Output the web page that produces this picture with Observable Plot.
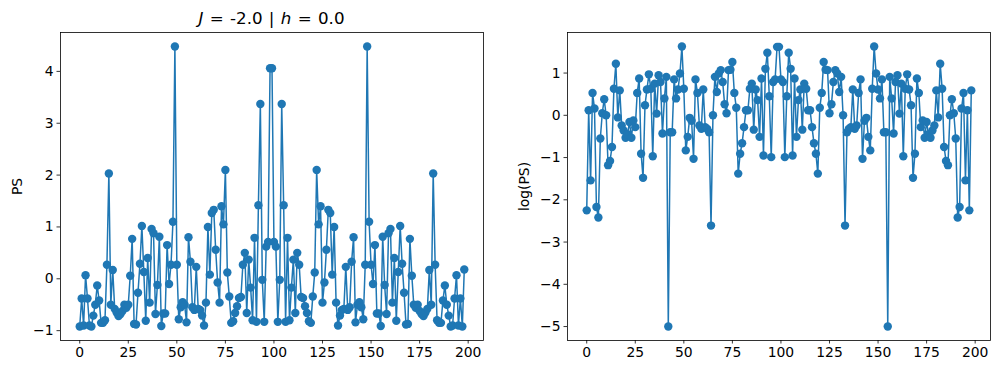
<!DOCTYPE html>
<html>
<head>
<meta charset="utf-8">
<script src="https://cdn.jsdelivr.net/npm/d3@7"></script>
<script src="https://cdn.jsdelivr.net/npm/@observablehq/plot@0.6"></script>
<style>
  html, body { margin: 0; padding: 0; background: white; }
  #wrap { position: relative; width: 999px; height: 374px; background: white; font-family: "DejaVu Sans", sans-serif; }
  #title { position: absolute; left: 60px; width: 423px; top: 10px; text-align: center; font-size: 16.7px; line-height: 1; color: black; white-space: nowrap; word-spacing: 1px; }
  #left, #right { position: absolute; top: 0; }
  #left { left: 0; }
  #right { left: 500px; }
</style>
</head>
<body>
<div id="wrap">
  <div id="left"></div>
  <div id="right"></div>
  <div id="title"><i>J</i> = -2.0 | <i>h</i> = 0.0</div>
</div>
<script>
// Left panel: PS values, index 0..198
const psFirst = [
  -0.92, -0.38, -0.90, 0.07, -0.38, -0.90, -0.92, -0.71, -0.50, -0.13,
  -0.42, -0.85, -0.85, -0.80, 0.27, 2.03, -0.50, 0.17, -0.58, -0.65,
  -0.72, -0.68, -0.62, -0.50, -0.56, -0.50, 0.06, 0.77, -0.87, -0.88,
  -0.27, 0.29, 1.02, 0.13, -0.81, 0.40, -0.46, 0.96, 0.88, -0.68,
  -0.12, 0.81, -0.91, -0.67, -0.67, 0.65, -0.10, 0.27, 1.10, 4.48,
  0.27, -0.78, -0.55, -0.45, -0.50, -0.84, 0.80, 0.33, -0.55, -0.60,
  0.23, -0.58, -0.60, -0.71, -0.90, -0.46, 1.00, 0.08, 1.27, 1.33,
  0.56, -0.07, -0.46, 1.40, 1.05, 2.10, 0.12, -0.34, -0.85, -0.82,
  -0.66, -0.53, -0.37, -0.35, 0.27, 0.50, -0.66, 0.37, -0.17, -0.80,
  0.79, -0.83, 1.42, 3.37, -0.02, -0.83, 0.62, 0.71, 4.06
];
const psSecond = [
  4.06, 0.71, 0.62, -0.83, -0.02, 3.37, 1.42, -0.83, 0.79, -0.80,
  -0.17, 0.37, -0.66, 0.50, 0.27, -0.35, -0.37, -0.53, -0.66, -0.82,
  -0.85, -0.34, 0.12, 2.10, 1.05, 1.40, -0.46, -0.07, 0.56, 1.33,
  1.27, 0.08, 1.00, -0.46, -0.90, -0.71, -0.60, -0.58, 0.23, -0.60,
  -0.55, 0.33, 0.80, -0.84, -0.50, -0.45, -0.55, -0.78, 0.27, 4.48,
  1.10, 0.27, -0.10, 0.65, -0.67, -0.67, -0.91, 0.81, -0.12, -0.68,
  0.88, 0.96, -0.46, 0.40, -0.81, 0.13, 1.02, 0.29, -0.27, -0.88,
  -0.87, 0.77, 0.06, -0.50, -0.56, -0.50, -0.62, -0.68, -0.72, -0.65,
  -0.58, 0.17, -0.50, 2.03, 0.27, -0.80, -0.85, -0.85, -0.42, -0.13,
  -0.50, -0.71, -0.92, -0.90, -0.38, 0.07, -0.90, -0.38, -0.92, 0.18
];
// Right panel: log(PS) values, index 0..198
const logFirst = [
  -2.25, 0.12, -1.54, 0.53, 0.16, -2.17, -2.42, -0.55, 0.05, 0.38,
  0.00, -1.18, -1.08, -0.75, 0.63, 1.22, -0.05, 0.59, -0.24, -0.36,
  -0.53, -0.45, -0.16, -0.53, -0.12, -0.28, 0.53, 0.87, -0.91, -1.48,
  0.24, 0.61, 0.97, 0.63, -0.97, 0.75, 0.04, 0.95, 0.79, -0.43,
  0.40, 0.91, -5.00, -0.40, -0.40, 0.85, 0.40, 0.61, 0.99, 1.63,
  0.63, -0.83, -0.51, -0.06, -0.13, -1.03, 0.85, 0.53, -0.24, -0.32,
  0.61, -0.28, -0.32, -0.40, -2.61, 0.00, 0.91, 0.55, 0.99, 1.07,
  0.79, 0.26, 0.05, 1.07, 1.08, 1.26, 0.53, 0.18, -1.38, -0.91,
  -0.66, -0.28, 0.12, 0.12, 0.63, 0.75, -0.34, 0.61, 0.36, -0.51,
  0.87, -0.95, 1.10, 1.48, 0.45, -0.99, 0.79, 0.85, 1.62
];
const logSecond = [
  1.62, 0.85, 0.79, -0.99, 0.45, 1.48, 1.10, -0.95, 0.87, -0.51,
  0.36, 0.61, -0.34, 0.75, 0.63, 0.12, 0.12, -0.28, -0.66, -0.91,
  -1.38, 0.18, 0.53, 1.26, 1.08, 1.07, 0.05, 0.26, 0.79, 1.07,
  0.99, 0.55, 0.91, 0.00, -2.61, -0.40, -0.32, -0.28, 0.61, -0.32,
  -0.24, 0.53, 0.85, -1.03, -0.13, -0.06, -0.51, -0.83, 0.63, 1.63,
  0.99, 0.61, 0.40, 0.85, -0.40, -0.40, -5.00, 0.91, 0.40, -0.43,
  0.79, 0.95, 0.04, 0.75, -0.97, 0.63, 0.97, 0.61, 0.24, -1.48,
  -0.91, 0.87, 0.53, -0.28, -0.12, -0.53, -0.16, -0.45, -0.53, -0.36,
  -0.24, 0.59, -0.05, 1.22, 0.63, -0.75, -1.08, -1.18, 0.00, 0.38,
  0.05, -0.55, -2.42, -2.17, 0.16, 0.53, -1.54, 0.12, -2.25, 0.59
];
const xTicks = [0, 25, 50, 75, 100, 125, 150, 175, 200];
const psTicks = [-1, 0, 1, 2, 3, 4];
const logTicks = [-5, -4, -3, -2, -1, 0, 1];

const ps = psFirst.concat(psSecond);
const logps = logFirst.concat(logSecond);
const BLUE = "#1f77b4";

function panel({values, yDomain, yTicks, yLabel, marginLeft, marginRight, width}) {
  const data = values.map((v, i) => ({i, v}));
  return Plot.plot({
    width, height: 374,
    marginLeft, marginRight, marginTop: 32, marginBottom: 34,
    style: {fontFamily: "DejaVu Sans, sans-serif", fontSize: "13.9px", color: "black", background: "transparent", overflow: "visible"},
    x: {domain: [-9.9, 207.9]},
    y: {domain: yDomain},
    marks: [
      Plot.line(data, {x: "i", y: "v", stroke: BLUE, strokeWidth: 1.5}),
      Plot.dot(data, {x: "i", y: "v", r: 4.2, fill: BLUE, stroke: null}),
      Plot.frame({stroke: "black", strokeWidth: 0.8}),
      Plot.axisX({ticks: xTicks, tickSize: 3.5, tickPadding: 3.5, tickFormat: d => String(d), label: null, strokeWidth: 0.8}),
      Plot.axisY({ticks: yTicks, tickSize: 3.5, tickPadding: 3.5, tickFormat: d => (d < 0 ? "\u2212" + Math.abs(d) : String(d)), label: null, strokeWidth: 0.8}),
      Plot.text([yLabel], {frameAnchor: "left", dx: -43, rotate: -90, text: d => d, textAnchor: "middle", fontSize: 13.9})
    ]
  });
}

document.getElementById("left").appendChild(panel({
  values: ps, yDomain: [-1.19, 4.75], yTicks: psTicks, yLabel: "PS",
  marginLeft: 60, marginRight: 17, width: 500
}));
document.getElementById("right").appendChild(panel({
  values: logps, yDomain: [-5.33, 1.96], yTicks: logTicks, yLabel: "log(PS)",
  marginLeft: 67, marginRight: 9, width: 499
}));
</script>
</body>
</html>
